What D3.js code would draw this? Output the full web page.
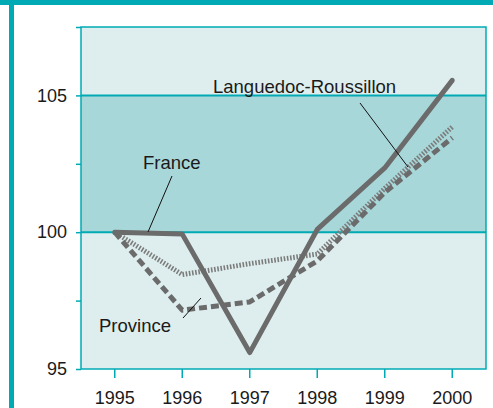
<!DOCTYPE html>
<html>
<head>
<meta charset="utf-8">
<script src="https://cdn.jsdelivr.net/npm/d3@7"></script>
<style>
  body { margin: 0; background: #fff; }
  svg { display: block; font-family: "Liberation Sans", Arial, sans-serif; }
</style>
</head>
<body>
<svg width="493" height="408"></svg>
<script>
// data
const years = [1995, 1996, 1997, 1998, 1999, 2000];
const languedoc = [100, 99.93, 95.6, 100.1, 102.35, 105.55];
const france = [100, 98.45, 98.85, 99.2, 101.6, 103.85];
const province = [100, 97.15, 97.45, 98.95, 101.45, 103.45];
const yTicks = [95, 97.5, 100, 102.5, 105, 107.5];
const yLabels = [95, 100, 105];

const teal = "#00aab4";
const grey = "#6b6b6b";

const svg = d3.select("svg");

// frame
svg.append("rect").attr("x", 0).attr("y", 0).attr("width", 493).attr("height", 5).attr("fill", teal);
svg.append("rect").attr("x", 9).attr("y", 0).attr("width", 5).attr("height", 408).attr("fill", teal);

const plotLeft = 81, plotRight = 486, plotTop = 27, plotBottom = 369;

const x = d3.scaleBand().domain(years).range([plotLeft, plotRight]);
const xc = (d) => x(d) + x.bandwidth() / 2;
const y = d3.scaleLinear().domain([95, 107.5]).range([plotBottom, plotTop]);

// plot background + band between 100 and 105
svg.append("rect")
  .attr("x", plotLeft).attr("y", plotTop)
  .attr("width", plotRight - plotLeft).attr("height", plotBottom - plotTop)
  .attr("fill", "#deeeee");
svg.append("rect")
  .attr("x", plotLeft).attr("y", y(105))
  .attr("width", plotRight - plotLeft).attr("height", y(100) - y(105))
  .attr("fill", "#a8d7d9");

// axes
const yAxis = svg.append("g")
  .attr("transform", `translate(${plotLeft},0)`)
  .call(d3.axisLeft(y).tickValues(yTicks).tickSize(5).tickPadding(9).tickSizeOuter(0)
    .tickFormat((d) => (yLabels.includes(d) ? d : "")));
const xAxis = svg.append("g")
  .attr("transform", `translate(0,${plotBottom})`)
  .call(d3.axisBottom(x).tickSize(9).tickPadding(13).tickSizeOuter(0));

for (const ax of [yAxis, xAxis]) {
  ax.select(".domain").remove();
  ax.selectAll(".tick line").attr("stroke", teal).attr("stroke-width", 1.5);
  ax.selectAll("text").attr("fill", "#1a1a1a").attr("font-size", "18px")
    .attr("font-family", "'Liberation Sans', Arial, sans-serif");
}

// plot border and gridlines
svg.append("rect")
  .attr("x", plotLeft).attr("y", plotTop)
  .attr("width", plotRight - plotLeft).attr("height", plotBottom - plotTop)
  .attr("fill", "none").attr("stroke", teal).attr("stroke-width", 1.5);
svg.selectAll(".grid")
  .data([100, 105])
  .enter()
  .append("line")
  .attr("x1", plotLeft).attr("x2", plotRight)
  .attr("y1", (d) => y(d)).attr("y2", (d) => y(d))
  .attr("stroke", teal).attr("stroke-width", 2);

// series
const line = d3.line().x((d, i) => xc(years[i])).y((d) => y(d));

const series = [
  { name: "France", values: france, dash: "1.6,1.6", color: "#7c7c7c", width: 5 },
  { name: "Province", values: province, dash: "8,4", color: grey, width: 5 },
  { name: "Languedoc-Roussillon", values: languedoc, dash: null, color: grey, width: 5 },
];

svg.selectAll(".series")
  .data(series)
  .enter()
  .append("path")
  .attr("d", (s) => line(s.values))
  .attr("fill", "none")
  .attr("stroke", (s) => s.color)
  .attr("stroke-width", (s) => s.width)
  .attr("stroke-dasharray", (s) => s.dash)
  .attr("stroke-linejoin", "round")
  .attr("stroke-linecap", (s) => (s.dash ? "butt" : "round"));

// labels with leader lines
const labels = [
  { text: "Languedoc-Roussillon", x: 213, y: 93, lx1: 360, ly1: 103, lx2: 408, ly2: 167 },
  { text: "France", x: 143, y: 169, lx1: 172, ly1: 176, lx2: 148, ly2: 232 },
  { text: "Province", x: 99, y: 332, lx1: 183, ly1: 318, lx2: 201, ly2: 298 },
];

svg.selectAll(".leader")
  .data(labels)
  .enter()
  .append("line")
  .attr("x1", (d) => d.lx1).attr("y1", (d) => d.ly1)
  .attr("x2", (d) => d.lx2).attr("y2", (d) => d.ly2)
  .attr("stroke", "#111").attr("stroke-width", 1);

svg.selectAll(".lbl")
  .data(labels)
  .enter()
  .append("text")
  .attr("x", (d) => d.x).attr("y", (d) => d.y)
  .attr("font-size", "18.5px")
  .attr("fill", "#1a1a1a")
  .text((d) => d.text);
</script>
</body>
</html>
